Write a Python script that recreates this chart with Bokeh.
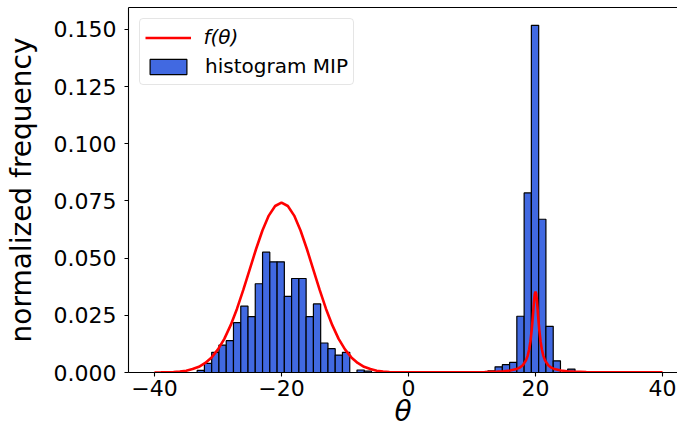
from bokeh.plotting import figure
from bokeh.models import Range1d, LinearAxis, FixedTicker, Legend, LegendItem, Label
from bokeh.embed import file_html
from bokeh.resources import INLINE

# ---- data ----
bin_edges = [-33.28, -32.14, -30.99, -29.85, -28.70, -27.56, -26.41, -25.27, -24.13,
             -22.98, -21.84, -20.69, -19.55, -18.41, -17.26, -16.12, -14.97, -13.83,
             -12.68, -11.54, -10.40, -9.25, -8.11, -6.96, -5.82, -4.68, -3.53, -2.39,
             -1.24, -0.10, 1.05, 2.19, 3.33, 4.48, 5.62, 6.77, 7.91, 9.06, 10.20,
             11.34, 12.49, 13.63, 14.78, 15.92, 17.06, 18.21, 19.35, 20.50, 21.64,
             22.79, 23.93, 25.07, 26.22]
hist_values = [0.0009, 0.0040, 0.0088, 0.0120, 0.0139, 0.0218, 0.0290, 0.0244,
               0.0388, 0.0526, 0.0484, 0.0484, 0.0333, 0.0411, 0.0411, 0.0244,
               0.0300, 0.0129, 0.0104, 0.0076, 0.0088, 0.0, 0.0011, 0.0006,
               0.0, 0.0, 0.0, 0.0, 0.0, 0.0, 0.0, 0.0,
               0.0, 0.0, 0.0, 0.0, 0.0, 0.0, 0.0, 0.0,
               0.0007, 0.0025, 0.0034, 0.0044, 0.0246, 0.0785, 0.1518, 0.0670,
               0.0202, 0.0051, 0.0, 0.0015]

theta = [-40, -39, -38, -37, -36, -35, -34, -33, -32, -31, -30, -29, -28, -27, -26,
         -25, -24, -23, -22, -21, -20, -19, -18, -17, -16, -15, -14, -13, -12, -11,
         -10, -9, -8, -7, -6, -5, -4, -3, -2, -1, 0, 2, 4, 6, 8, 10, 12, 14, 15, 16,
         17, 17.5, 18, 18.5, 18.75, 19, 19.2, 19.4, 19.5, 19.6, 19.7, 19.8, 19.9, 20,
         20.1, 20.2, 20.3, 20.4, 20.5, 20.6, 20.8, 21, 21.25, 21.5, 22, 22.5, 23, 24,
         25, 26, 28, 30, 32, 35, 38, 40]
f_values = [0.00003, 0.00005, 0.00011, 0.00023, 0.00044, 0.0008, 0.0015, 0.0025,
            0.0042, 0.0066, 0.0101, 0.0147, 0.0207, 0.0279, 0.0362, 0.0451, 0.0540,
            0.0621, 0.0686, 0.0728, 0.0743, 0.0728, 0.0686, 0.0621, 0.0540, 0.0451,
            0.0362, 0.0279, 0.0207, 0.0147, 0.0101, 0.0066, 0.0042, 0.0025, 0.0015,
            0.0008, 0.00045, 0.00025, 0.00013, 0.00007, 0.00006, 0.00005, 0.00006,
            0.00007, 0.0001, 0.00014, 0.00022, 0.00039, 0.00055, 0.00086, 0.0015,
            0.00211, 0.0032, 0.00531, 0.00717, 0.01006, 0.01355, 0.01856, 0.02172,
            0.02523, 0.02886, 0.03216, 0.03453, 0.0354, 0.03453, 0.03216, 0.02886,
            0.02523, 0.02172, 0.01856, 0.01355, 0.01006, 0.00717, 0.00531, 0.0032,
            0.00211, 0.0015, 0.00086, 0.00055, 0.00039, 0.00022, 0.00014, 0.0001,
            0.00006, 0.00004, 0.00004]

x_ticks = [-40, -20, 0, 20, 40]
x_tick_labels = ["\u221240", "\u221220", "0", "20", "40"]
y_ticks = [0.0, 0.025, 0.05, 0.075, 0.1, 0.125, 0.15]
y_tick_labels = ["0.000", "0.025", "0.050", "0.075", "0.100", "0.125", "0.150"]

x_label = "\u03b8"
y_label = "normalized frequency"
line_label = "f(\u03b8)"
hist_label = "histogram MIP"

FONT = "DejaVu Sans"

p = figure(width=677, height=433, output_backend="svg", toolbar_location=None,
           x_range=Range1d(-44.09, 42.36), y_range=Range1d(0, 0.1596),
           min_border_left=128, min_border_right=0, min_border_top=7,
           min_border_bottom=61)
p.outline_line_color = None
p.xgrid.visible = False
p.ygrid.visible = False
p.background_fill_color = "white"
p.border_fill_color = "white"

r_hist = p.quad(left=bin_edges[:-1], right=bin_edges[1:], top=hist_values, bottom=0,
                fill_color="#4169E1", line_color="black", line_width=1.2)
r_line = p.line(theta, f_values, line_color="red", line_width=2.6)

for ax in (p.xaxis[0], p.yaxis[0]):
    ax.major_label_text_font = FONT
    ax.major_label_text_font_size = "22px"
    ax.major_label_text_color = "black"
    ax.axis_line_color = "black"
    ax.axis_line_width = 1.1
    ax.major_tick_line_color = "black"
    ax.major_tick_line_width = 1.1
    ax.major_tick_out = 4
    ax.major_tick_in = 0
    ax.minor_tick_line_color = None
    ax.axis_label_text_font = FONT
    ax.axis_label_text_color = "black"
    ax.axis_label_text_font_size = "28px"

xa = p.xaxis[0]
xa.ticker = FixedTicker(ticks=x_ticks)
xa.major_label_overrides = dict(zip(x_ticks, x_tick_labels))
xa.major_label_standoff = 3
xa.axis_label = x_label
xa.axis_label_text_font_style = "italic"
xa.axis_label_standoff = -4

ya = p.yaxis[0]
ya.ticker = FixedTicker(ticks=y_ticks)
ya.major_label_overrides = dict(zip(y_ticks, y_tick_labels))
ya.major_label_standoff = 8
ya.axis_label = y_label
ya.axis_label_text_font_style = "normal"
ya.axis_label_standoff = 13

top_axis = LinearAxis(ticker=FixedTicker(ticks=[]), major_tick_line_color=None,
                      minor_tick_line_color=None, major_label_text_font_size="0px",
                      major_tick_out=0, major_label_standoff=0,
                      axis_line_color="black", axis_line_width=1.1)
p.add_layout(top_axis, "above")

legend = Legend(items=[LegendItem(label=" ", renderers=[r_line]),
                       LegendItem(label=hist_label, renderers=[r_hist])],
                location="top_left", margin=11, padding=5, spacing=3,
                glyph_width=46, glyph_height=19, label_height=26, label_standoff=14,
                label_text_font=FONT, label_text_font_size="20px",
                label_text_color="black",
                border_line_color="#cccccc", border_line_width=1,
                background_fill_color="white", background_fill_alpha=0.0)
if "border_radius" in Legend.properties():
    legend.border_radius = 4
p.add_layout(legend)
# first legend entry text, drawn in italic like the reference's math text
p.add_layout(Label(x=75, y=336, x_units="screen", y_units="screen", text=line_label,
                   level="overlay",
                   text_font=FONT, text_font_size="20px", text_font_style="italic",
                   text_color="black", text_align="left", text_baseline="middle"))

open("out.html", "w").write(file_html(p, INLINE))
